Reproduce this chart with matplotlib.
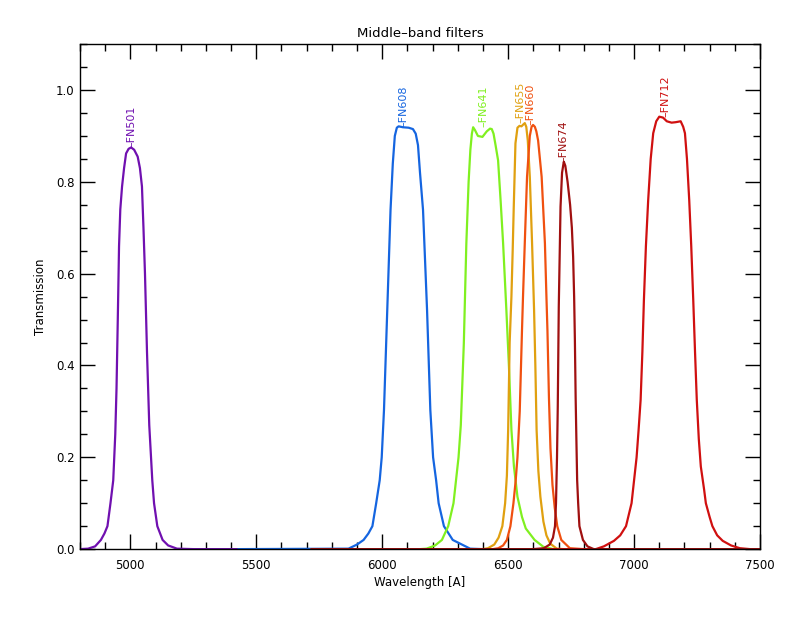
import numpy as np
import matplotlib
matplotlib.use('Agg')
import matplotlib.pyplot as plt
from matplotlib.ticker import MultipleLocator, FormatStrFormatter

# filter curves: wavelength [A] and transmission
fn501_wl = [4800, 4832, 4860, 4883, 4897, 4909, 4921, 4932, 4940, 4945, 4950, 4955, 4960, 4967, 4975,
            4983, 4993, 5003, 5015, 5029, 5038, 5046, 5052, 5058, 5066, 5075, 5087, 5094, 5107, 5128,
            5150, 5185, 5250, 5430]
fn501_tr = [0.0, 0.001, 0.006, 0.02, 0.034, 0.05, 0.1, 0.15, 0.25, 0.35, 0.5, 0.66, 0.74, 0.79, 0.83,
            0.862, 0.872, 0.875, 0.87, 0.855, 0.83, 0.79, 0.7, 0.6, 0.43, 0.27, 0.15, 0.1, 0.05, 0.02,
            0.008, 0.001, 0.0, 0.0]

fn608_wl = [5430, 5866, 5900, 5926, 5945, 5961, 5976, 5990, 5998, 6007, 6020, 6033, 6042, 6050, 6058,
            6065, 6082, 6105, 6122, 6133, 6142, 6150, 6162, 6178, 6191, 6202, 6214, 6224, 6245, 6280,
            6349, 6400]
fn608_tr = [0.0, 0.001, 0.01, 0.02, 0.034, 0.05, 0.1, 0.15, 0.2, 0.303, 0.521, 0.739, 0.84, 0.9, 0.918,
            0.921, 0.919, 0.918, 0.915, 0.905, 0.88, 0.82, 0.739, 0.521, 0.303, 0.2, 0.15, 0.1, 0.05, 0.02,
            0.001, 0.0]

fn641_wl = [6150, 6176, 6210, 6237, 6262, 6283, 6293, 6303, 6312, 6324, 6334, 6343, 6350, 6356, 6361,
            6368, 6380, 6398, 6415, 6428, 6435, 6442, 6450, 6460, 6470, 6480, 6493, 6503, 6513, 6523,
            6537, 6555, 6570, 6605, 6640, 6680]
fn641_tr = [0.0, 0.001, 0.008, 0.02, 0.05, 0.1, 0.15, 0.2, 0.27, 0.448, 0.666, 0.8, 0.87, 0.905, 0.919,
            0.913, 0.9, 0.898, 0.91, 0.916, 0.915, 0.905, 0.88, 0.847, 0.76, 0.666, 0.52, 0.4, 0.26, 0.18,
            0.114, 0.07, 0.045, 0.02, 0.005, 0.0]

fn655_wl = [6400, 6420, 6445, 6462, 6477, 6488, 6495, 6500, 6506, 6513, 6518, 6522, 6529, 6537, 6545,
            6553, 6560, 6566, 6572, 6578, 6586, 6595, 6603, 6608, 6613, 6620, 6628, 6640, 6652, 6667,
            6693, 6720]
fn655_tr = [0.0, 0.002, 0.01, 0.025, 0.05, 0.1, 0.16, 0.259, 0.45, 0.55, 0.65, 0.74, 0.884, 0.918, 0.922,
            0.921, 0.925, 0.928, 0.92, 0.89, 0.811, 0.666, 0.52, 0.4, 0.259, 0.17, 0.114, 0.06, 0.03, 0.012,
            0.001, 0.0]

fn660_wl = [6440, 6461, 6480, 6495, 6509, 6521, 6530, 6537, 6546, 6555, 6559, 6566, 6575, 6586, 6593,
            6599, 6606, 6612, 6619, 6633, 6646, 6652, 6656, 6662, 6668, 6676, 6685, 6695, 6711, 6745, 6800]
fn660_tr = [0.0, 0.002, 0.008, 0.02, 0.05, 0.1, 0.15, 0.2, 0.3, 0.477, 0.55, 0.666, 0.811, 0.9, 0.92,
            0.924, 0.92, 0.91, 0.89, 0.811, 0.666, 0.55, 0.477, 0.33, 0.22, 0.14, 0.09, 0.05, 0.02, 0.002, 0.0]

fn674_wl = [5720, 6600, 6642, 6665, 6678, 6686, 6690, 6694, 6697, 6701, 6708, 6714, 6721, 6727, 6736,
            6746, 6753, 6758, 6762, 6765, 6768, 6771, 6774, 6778, 6783, 6797, 6815, 6840, 7500]
fn674_tr = [0.0, 0.0, 0.002, 0.01, 0.025, 0.05, 0.1, 0.2, 0.31, 0.528, 0.746, 0.82, 0.844, 0.835, 0.8,
            0.75, 0.7, 0.637, 0.55, 0.455, 0.33, 0.237, 0.15, 0.1, 0.05, 0.02, 0.006, 0.0, 0.0]

fn712_wl = [5720, 6848, 6880, 6920, 6945, 6968, 6990, 7000, 7010, 7018, 7026, 7033, 7039, 7047, 7056,
            7066, 7076, 7088, 7100, 7115, 7130, 7149, 7165, 7185, 7195, 7202, 7210, 7219, 7227, 7235,
            7242, 7249, 7257, 7265, 7278, 7285, 7300, 7311, 7330, 7352, 7385, 7420, 7460, 7500]
fn712_tr = [0.0, 0.0, 0.006, 0.018, 0.03, 0.05, 0.1, 0.15, 0.2, 0.26, 0.325, 0.43, 0.542, 0.66, 0.76,
            0.85, 0.906, 0.932, 0.942, 0.94, 0.932, 0.929, 0.93, 0.932, 0.92, 0.906, 0.85, 0.76, 0.66, 0.542,
            0.43, 0.325, 0.24, 0.18, 0.13, 0.1, 0.07, 0.05, 0.03, 0.018, 0.008, 0.002, 0.0, 0.0]

names = ['FN501', 'FN608', 'FN641', 'FN655', 'FN660', 'FN712', 'FN674']
colors = ['#7010b0', '#1565e0', '#80f020', '#e0a010', '#f05010', '#d01010', '#a01010']
label_wl = [5005, 6083, 6400, 6549, 6589, 7123, 6721]
label_tr = [0.875, 0.92, 0.919, 0.928, 0.924, 0.942, 0.844]

curves = [(fn501_wl, fn501_tr), (fn608_wl, fn608_tr), (fn641_wl, fn641_tr), (fn655_wl, fn655_tr),
          (fn660_wl, fn660_tr), (fn712_wl, fn712_tr), (fn674_wl, fn674_tr)]

fig = plt.figure(figsize=(8, 6.4), dpi=100)
ax = fig.add_axes([0.1, 0.142, 0.85, 0.789])

for (wl, tr), name, col, lx, ly in zip(curves, names, colors, label_wl, label_tr):
    ax.plot(wl, tr, color=col, lw=1.6)
    ax.text(lx, ly, '\u2013' + name, color=col, rotation=90, fontsize=8,
            ha='center', va='bottom')

ax.set_xlim(4800, 7500)
ax.set_ylim(0, 1.1)
ax.xaxis.set_major_locator(MultipleLocator(500))
ax.xaxis.set_minor_locator(MultipleLocator(100))
ax.yaxis.set_major_locator(MultipleLocator(0.2))
ax.yaxis.set_minor_locator(MultipleLocator(0.05))
ax.yaxis.set_major_formatter(FormatStrFormatter('%.1f'))
ax.tick_params(which='both', direction='in', top=True, right=True, width=1, labelsize=8.5)
ax.tick_params(which='major', length=11)
ax.tick_params(which='minor', length=5)
ax.tick_params(axis='x', pad=7)
ax.tick_params(axis='y', pad=4)
for sp in ax.spines.values():
    sp.set_linewidth(1)

ax.set_title('Middle\u2013band filters', fontsize=9.5, pad=5)
ax.set_xlabel('Wavelength [A]', fontsize=8.5, labelpad=3)
ax.set_ylabel('Transmission', fontsize=8.5, labelpad=6)

fig.savefig('out.png', dpi=100)
